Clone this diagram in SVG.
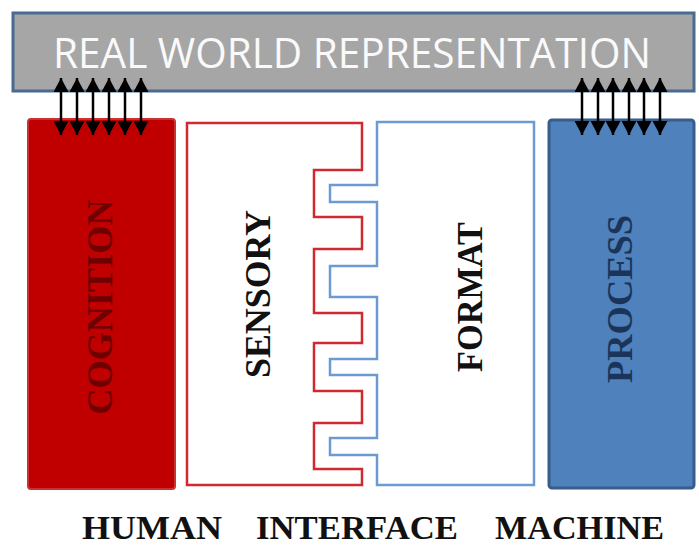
<svg xmlns="http://www.w3.org/2000/svg" width="699" height="545" viewBox="0 0 699 545">
<style>
.vt{font-family:"Liberation Serif","Times New Roman",serif;font-size:36px;text-anchor:middle;font-weight:bold}
.bt{font-family:"Liberation Serif","Times New Roman",serif;font-size:33px;fill:#111;font-weight:bold}
.arr{stroke:#000;stroke-width:2.5;fill:none;marker-start:url(#ah);marker-end:url(#ah)}
</style>
<defs>
<marker id="ah" viewBox="0 0 14 15" refX="14" refY="7.5" markerWidth="14" markerHeight="15" markerUnits="userSpaceOnUse" orient="auto-start-reverse">
<path d="M0,0 L14,7.5 L0,15 Z" fill="#000"/>
</marker>
</defs>
<rect width="699" height="545" fill="#fff"/>
<g id="real-world">
<rect x="13" y="13" width="681" height="78" fill="#a6a6a6" stroke="#4a6a90" stroke-width="3"/>
<text x="352" y="68" font-family="Open Sans,Liberation Sans,sans-serif" font-size="42" fill="#fafafa" text-anchor="middle" textLength="598" lengthAdjust="spacingAndGlyphs">REAL WORLD REPRESENTATION</text>
</g>
<g id="cognition">
<rect x="28" y="119" width="147" height="370" rx="3" fill="#c00000" stroke="#c83232" stroke-width="2"/>
<text class="vt" transform="translate(112,307) rotate(-90)" fill="#6e0000" textLength="215" lengthAdjust="spacingAndGlyphs">COGNITION</text>
</g>
<g id="sensory">
<path d="M187,123 H362 V170 H314 V217 H362 V249 H314 V313 H362 V343 H314 V391 H362 V423 H314 V469 H362 V485 H187 Z" fill="#fff" stroke="#d02a30" stroke-width="2.5"/>
<text class="vt" transform="translate(270,294) rotate(-90)" fill="#111" textLength="168" lengthAdjust="spacingAndGlyphs">SENSORY</text>
</g>
<g id="format">
<path d="M377,122 V185 H330 V202 H377 V266 H330 V297 H377 V359 H330 V375 H377 V438 H330 V455 H377 V485 H534 V122 Z" fill="#fff" stroke="#6b9bd1" stroke-width="2.5"/>
<text class="vt" transform="translate(482,297) rotate(-90)" fill="#111" textLength="150" lengthAdjust="spacingAndGlyphs">FORMAT</text>
</g>
<g id="process">
<rect x="549" y="120" width="145" height="368" rx="3" fill="#4f81bd" stroke="#385d8a" stroke-width="3"/>
<text class="vt" transform="translate(632,299) rotate(-90)" fill="#1b355a" textLength="168" lengthAdjust="spacingAndGlyphs">PROCESS</text>
</g>
<g id="connectors">
<line class="arr" x1="61" y1="78" x2="61" y2="135"/>
<line class="arr" x1="77" y1="78" x2="77" y2="135"/>
<line class="arr" x1="93" y1="78" x2="93" y2="135"/>
<line class="arr" x1="109" y1="78" x2="109" y2="135"/>
<line class="arr" x1="125" y1="78" x2="125" y2="135"/>
<line class="arr" x1="141" y1="78" x2="141" y2="135"/>
<line class="arr" x1="582" y1="78" x2="582" y2="135"/>
<line class="arr" x1="598" y1="78" x2="598" y2="135"/>
<line class="arr" x1="613" y1="78" x2="613" y2="135"/>
<line class="arr" x1="629" y1="78" x2="629" y2="135"/>
<line class="arr" x1="644" y1="78" x2="644" y2="135"/>
<line class="arr" x1="660" y1="78" x2="660" y2="135"/>
</g>
<g id="labels">
<text class="bt" x="82" y="539" textLength="140" lengthAdjust="spacingAndGlyphs">HUMAN</text>
<text class="bt" x="256" y="539" textLength="202" lengthAdjust="spacingAndGlyphs">INTERFACE</text>
<text class="bt" x="495" y="539" textLength="169" lengthAdjust="spacingAndGlyphs">MACHINE</text>
</g>
</svg>
